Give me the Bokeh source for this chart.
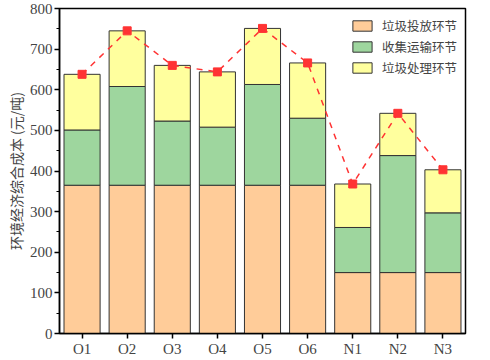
from bokeh.plotting import figure
from bokeh.models import ColumnDataSource, Legend, LegendItem, FactorRange, SingleIntervalTicker
from bokeh.embed import file_html
from bokeh.resources import INLINE

categories = ["O1", "O2", "O3", "O4", "O5", "O6", "N1", "N2", "N3"]
toufang = [365, 365, 365, 365, 365, 365, 150, 150, 150]
shouji = [136, 243, 158, 143, 248, 165, 111, 288, 147]
chuli = [137, 137, 137, 136, 138, 136, 107, 104, 106]
totals = [638, 745, 660, 644, 751, 666, 368, 542, 403]
series_names = ["垃圾投放环节", "收集运输环节", "垃圾处理环节"]
colors = ["#FFCC99", "#9ED69E", "#FFFF9E"]

b1 = [a + b for a, b in zip(toufang, shouji)]
b2 = [a + c for a, c in zip(b1, chuli)]

src = ColumnDataSource(dict(x=categories, t0=[0]*9, t1=toufang, t2=b1, t3=b2, tot=totals))

p = figure(width=490, height=360, x_range=FactorRange(*categories, range_padding=0),
           y_range=(0, 800), output_backend="svg", toolbar_location=None,
           min_border_left=59, min_border_right=25, min_border_top=8, min_border_bottom=27,
           styles={"position": "absolute", "left": "0px", "top": "0px"})
p.x_range.range_padding = 0
p.x_range.factor_padding = 0

serif = "Liberation Serif"
cjk = "Noto Sans CJK SC"

r1 = p.vbar(x="x", bottom="t0", top="t1", width=0.8, source=src, fill_color=colors[0], line_color="#333333", line_width=1)
r2 = p.vbar(x="x", bottom="t1", top="t2", width=0.8, source=src, fill_color=colors[1], line_color="#333333", line_width=1)
r3 = p.vbar(x="x", bottom="t2", top="t3", width=0.8, source=src, fill_color=colors[2], line_color="#333333", line_width=1)

p.line(x="x", y="tot", source=src, line_color="#FF3333", line_width=1.5, line_dash="6 6")
p.scatter(x="x", y="tot", source=src, marker="square", size=8, fill_color="#FF3333", line_color="#FF3333")

legend = Legend(items=[LegendItem(label=series_names[0], renderers=[r1]),
                       LegendItem(label=series_names[1], renderers=[r2]),
                       LegendItem(label=series_names[2], renderers=[r3])],
                location="top_right", border_line_color=None, background_fill_alpha=0,
                label_text_font=cjk, label_text_font_size="12.5px", glyph_width=24, glyph_height=13,
                spacing=2, padding=4, margin=8, label_standoff=8, label_height=13)
p.add_layout(legend, "center")

p.grid.visible = False
p.outline_line_color = "black"
p.outline_line_width = 1.5
p.outline_line_alpha = 1

p.yaxis.ticker = SingleIntervalTicker(interval=100, num_minor_ticks=2)
p.yaxis.axis_label = "环境经济综合成本 (元/吨)"
p.yaxis.axis_label_text_font = cjk
p.yaxis.axis_label_text_font_style = "normal"
p.yaxis.axis_label_text_font_size = "14px"
p.yaxis.axis_label_standoff = 1
for ax in (p.xaxis[0], p.yaxis[0]):
    ax.major_label_text_font = serif
    ax.major_label_text_font_size = "15px"
    ax.axis_line_color = "black"
    ax.axis_line_width = 1.5
    ax.major_tick_line_color = "black"
    ax.major_tick_line_width = 1.5
    ax.major_tick_out = 5
    ax.major_tick_in = 0
    ax.minor_tick_out = 3
    ax.minor_tick_in = 0
    ax.minor_tick_line_color = "black"
    ax.major_label_standoff = 2

open("out.html", "w").write(file_html(p, INLINE))
